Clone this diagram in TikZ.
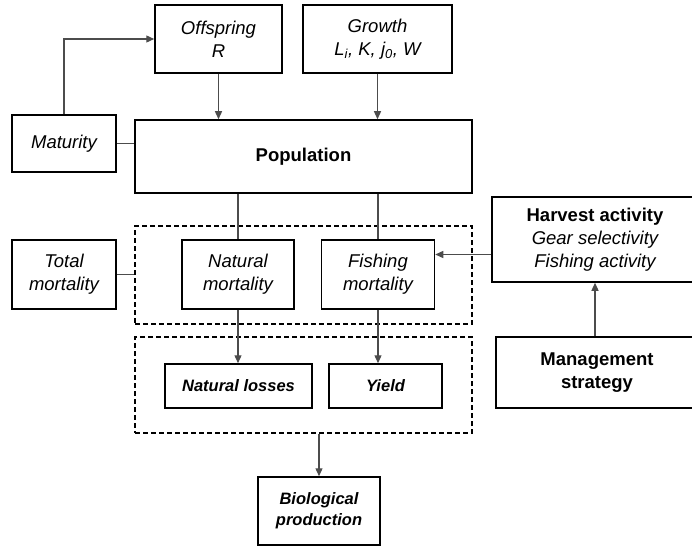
\documentclass[tikz,border=0pt]{standalone}
\usepackage{fontspec}
\setmainfont{Liberation Sans}
\usepackage{tikz}
\usetikzlibrary{arrows.meta}
\newcommand*{\bigtxt}{\fontsize{18.5}{23}\selectfont}
\newcommand*{\smalltxt}{\fontsize{16.5}{21}\selectfont}

\begin{document}
\begin{tikzpicture}[x=1pt, y=-1pt,
  box/.style={draw, line width=1.5pt, align=center, inner sep=0pt, font=\bigtxt},
  group/.style={draw, dash pattern=on 5pt off 3pt, line width=1.3pt, inner sep=0pt},
  link/.style={draw=black!70, line width=1.3pt},
  arr/.style={link, -{Triangle[length=8pt,width=7pt]}}]
\useasboundingbox (0,0) rectangle (692,548);
% top row
\node[box, minimum width=127pt, minimum height=68pt] (offspring) at (218.5,39) {\itshape Offspring\\ \itshape R};
\node[box, minimum width=149pt, minimum height=68pt] (growth) at (377.5,39) {\itshape Growth\\ \itshape L\textsubscript{i}, K, j\textsubscript{0}, W};
\node[box, minimum width=104pt, minimum height=57pt] (maturity) at (64,143.5) {\itshape Maturity};
\node[box, minimum width=337pt, minimum height=73pt] (population) at (303.5,156.5) {\bfseries Population};
% mortality
\node[group, minimum width=337pt, minimum height=98pt] (mortgroup) at (303.5,275) {};
\node[box, minimum width=104pt, minimum height=69pt] (totalmort) at (64,274.5) {\itshape Total\\ \itshape mortality};
\node[box, minimum width=112pt, minimum height=69pt] (natmort) at (238,274.5) {\itshape Natural\\ \itshape mortality};
\node[box, minimum width=113pt, minimum height=69pt] (fishmort) at (378,274.5) {\itshape Fishing\\ \itshape mortality};
\node[box, minimum width=206pt, minimum height=85pt] (harvest) at (595,239.5) {\bfseries Harvest activity\\ \itshape Gear selectivity\\ \itshape Fishing activity};
\node[box, minimum width=202pt, minimum height=71pt] (management) at (597,372.5) {\bfseries Management\\ \bfseries strategy};
% losses
\node[group, minimum width=337pt, minimum height=96pt] (lossgroup) at (303.5,385) {};
\node[box, minimum width=147pt, minimum height=44pt, font=\smalltxt\bfseries\itshape] (natloss) at (238.5,386) {Natural losses};
\node[box, minimum width=113pt, minimum height=44pt, font=\smalltxt\bfseries\itshape] (yield) at (385.5,386) {Yield};
\node[box, minimum width=122pt, minimum height=68pt, font=\smalltxt\bfseries\itshape] (bioprod) at (319,511) {Biological\\ production};
% connectors
\draw[arr] (maturity.north) |- (offspring.west);
\draw[link] (maturity.east) -- (maturity.east -| population.west);
\draw[arr] (offspring.south) -- (offspring.south |- population.north);
\draw[arr] (growth.south) -- (growth.south |- population.north);
\draw[link] (natmort.north |- population.south) -- (natmort.north);
\draw[link] (fishmort.north |- population.south) -- (fishmort.north);
\draw[link] (totalmort.east) -- (totalmort.east -| mortgroup.west);
\draw[arr] ([yshift=-15pt]harvest.west) -- ([yshift=-15pt]harvest.west -| fishmort.east);
\draw[arr] (management.north -| harvest.south) -- (harvest.south);
\draw[arr] (natmort.south) -- (natmort.south |- natloss.north);
\draw[arr] (fishmort.south) -- (fishmort.south |- yield.north);
\draw[arr] (bioprod.north |- lossgroup.south) -- (bioprod.north);
\end{tikzpicture}
\end{document}
